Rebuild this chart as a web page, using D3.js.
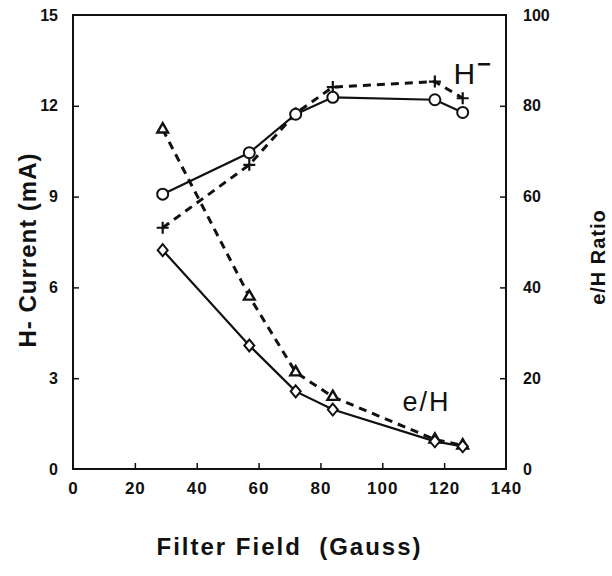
<!DOCTYPE html>
<html lang="en">
<head>
<meta charset="utf-8">
<title>H- Current and e/H Ratio vs Filter Field</title>
<script src="https://d3js.org/d3.v7.min.js"></script>
<style>
  body { margin: 0; background: #fff; }
  text { font-family: "Liberation Sans", Arial, sans-serif; fill: #111; }
</style>
</head>
<body>
<div id="chart"></div>
<script>
// data
var field      = [29, 57, 72, 84, 117, 126];            // Gauss
var hCircle    = [9.08, 10.45, 11.72, 12.28, 12.2, 11.78]; // mA, solid
var hPlus      = [7.97, 10.05, 11.75, 12.62, 12.8, 12.25]; // mA, dashed
var ehDiamond  = [48.2, 27.2, 17.1, 13.1, 6.1, 5.0];    // ratio, solid
var ehTriangle = [74.8, 38.0, 21.3, 15.9, 6.5, 5.2];    // ratio, dashed

var xTicks = [0, 20, 40, 60, 80, 100, 120, 140];
var yLeftTicks = [0, 3, 6, 9, 12, 15];
var yRightTicks = [0, 20, 40, 60, 80, 100];

var W = 612, H = 576;
var margin = {top: 15, right: 106, bottom: 107, left: 73};
var width = W - margin.left - margin.right,
    height = H - margin.top - margin.bottom;

var svg = d3.select("#chart").append("svg")
    .attr("width", W).attr("height", H)
  .append("g")
    .attr("transform", "translate(" + margin.left + "," + margin.top + ")");

var x = d3.scaleLinear().domain([0, 140]).range([0, width]);
var yL = d3.scaleLinear().domain([0, 15]).range([height, 0]);
var yR = d3.scaleLinear().domain([0, 100]).range([height, 0]);

// frame
svg.append("rect")
  .attr("width", width).attr("height", height)
  .attr("fill", "none").attr("stroke", "#111").attr("stroke-width", 2);

// axes, ticks pointing inward
var ax = svg.append("g").attr("transform", "translate(0," + height + ")")
  .call(d3.axisBottom(x).tickValues(xTicks).tickSizeInner(-6).tickSizeOuter(0).tickPadding(13));
var al = svg.append("g")
  .call(d3.axisLeft(yL).tickValues(yLeftTicks).tickSizeInner(-6).tickSizeOuter(0).tickPadding(15));
var ar = svg.append("g").attr("transform", "translate(" + width + ",0)")
  .call(d3.axisRight(yR).tickValues(yRightTicks).tickSizeInner(-6).tickSizeOuter(0).tickPadding(14));

[ax, al, ar].forEach(function(g) {
  g.select(".domain").remove();
  g.selectAll(".tick line").attr("stroke", "#111").attr("stroke-width", 1.5);
  g.selectAll(".tick text").style("font-size", "16px").style("font-weight", "bold");
});
ax.selectAll(".tick text").style("font-size", "17px").style("letter-spacing", "1px");
// hide end ticks lying on the frame
ax.selectAll(".tick line").filter(function(d) { return d === 0 || d === 140; }).remove();
al.selectAll(".tick line").filter(function(d) { return d === 0 || d === 15; }).remove();
ar.selectAll(".tick line").filter(function(d) { return d === 0 || d === 100; }).remove();
ar.selectAll(".tick text").attr("x", 17);

// series
function drawLine(vals, yScale, dashed) {
  var pts = field.map(function(f, i) { return [f, vals[i]]; });
  svg.append("path")
    .datum(pts)
    .attr("d", d3.line()
      .x(function(d) { return x(d[0]); })
      .y(function(d) { return yScale(d[1]); }))
    .attr("fill", "none")
    .attr("stroke", "#111")
    .attr("stroke-width", dashed ? 3 : 2.2)
    .attr("stroke-dasharray", dashed ? "8,6" : null);
  return pts;
}

var p1 = drawLine(hPlus, yL, true);
var p2 = drawLine(ehTriangle, yR, true);
var p3 = drawLine(hCircle, yL, false);
var p4 = drawLine(ehDiamond, yR, false);

// markers
svg.selectAll(".plus").data(p1).enter().append("path")
  .attr("transform", function(d) { return "translate(" + x(d[0]) + "," + yL(d[1]) + ")"; })
  .attr("d", "M-6,0H6M0,-6V6")
  .attr("stroke", "#111").attr("stroke-width", 2.2);

svg.selectAll(".tri").data(p2).enter().append("path")
  .attr("transform", function(d) { return "translate(" + x(d[0]) + "," + yR(d[1]) + ")"; })
  .attr("d", d3.symbol().type(d3.symbolTriangle).size(50))
  .attr("fill", "#fff").attr("stroke", "#111").attr("stroke-width", 2.4);

svg.selectAll(".circ").data(p3).enter().append("circle")
  .attr("cx", function(d) { return x(d[0]); })
  .attr("cy", function(d) { return yL(d[1]); })
  .attr("r", 5.5)
  .attr("fill", "#fff").attr("stroke", "#111").attr("stroke-width", 2);

svg.selectAll(".dia").data(p4).enter().append("path")
  .attr("transform", function(d) { return "translate(" + x(d[0]) + "," + yR(d[1]) + ")"; })
  .attr("d", "M0,-6L5,0L0,6L-5,0Z")
  .attr("fill", "#fff").attr("stroke", "#111").attr("stroke-width", 2);

// curve labels
var hl = svg.append("text")
  .attr("x", x(123)).attr("y", 69)
  .style("font-size", "30px");
hl.append("tspan").text("H");
hl.append("tspan").attr("dx", 2).attr("dy", -12).style("font-size", "24px").style("font-weight", "bold").text("\u2212");

svg.append("text")
  .attr("x", x(106.5)).attr("y", 396)
  .style("font-size", "27px").style("letter-spacing", "2px")
  .text("e/H");

// axis titles
svg.append("text")
  .attr("transform", "translate(" + (-37) + "," + (height / 2 + 8) + ") rotate(-90)")
  .attr("text-anchor", "middle")
  .style("font-size", "24px").style("font-weight", "bold")
  .style("letter-spacing", "1px")
  .text("H- Current (mA)");

svg.append("text")
  .attr("transform", "translate(" + (width + 99) + "," + (height / 2 + 15) + ") rotate(-90)")
  .attr("text-anchor", "middle")
  .style("font-size", "20px").style("font-weight", "bold")
  .style("letter-spacing", "1px")
  .text("e/H Ratio");

svg.append("text")
  .attr("x", x(70)).attr("y", height + 86)
  .attr("text-anchor", "middle")
  .style("font-size", "24px").style("font-weight", "bold")
  .style("letter-spacing", "2px")
  .attr("xml:space", "preserve")
  .text("Filter Field  (Gauss)");
</script>
</body>
</html>
